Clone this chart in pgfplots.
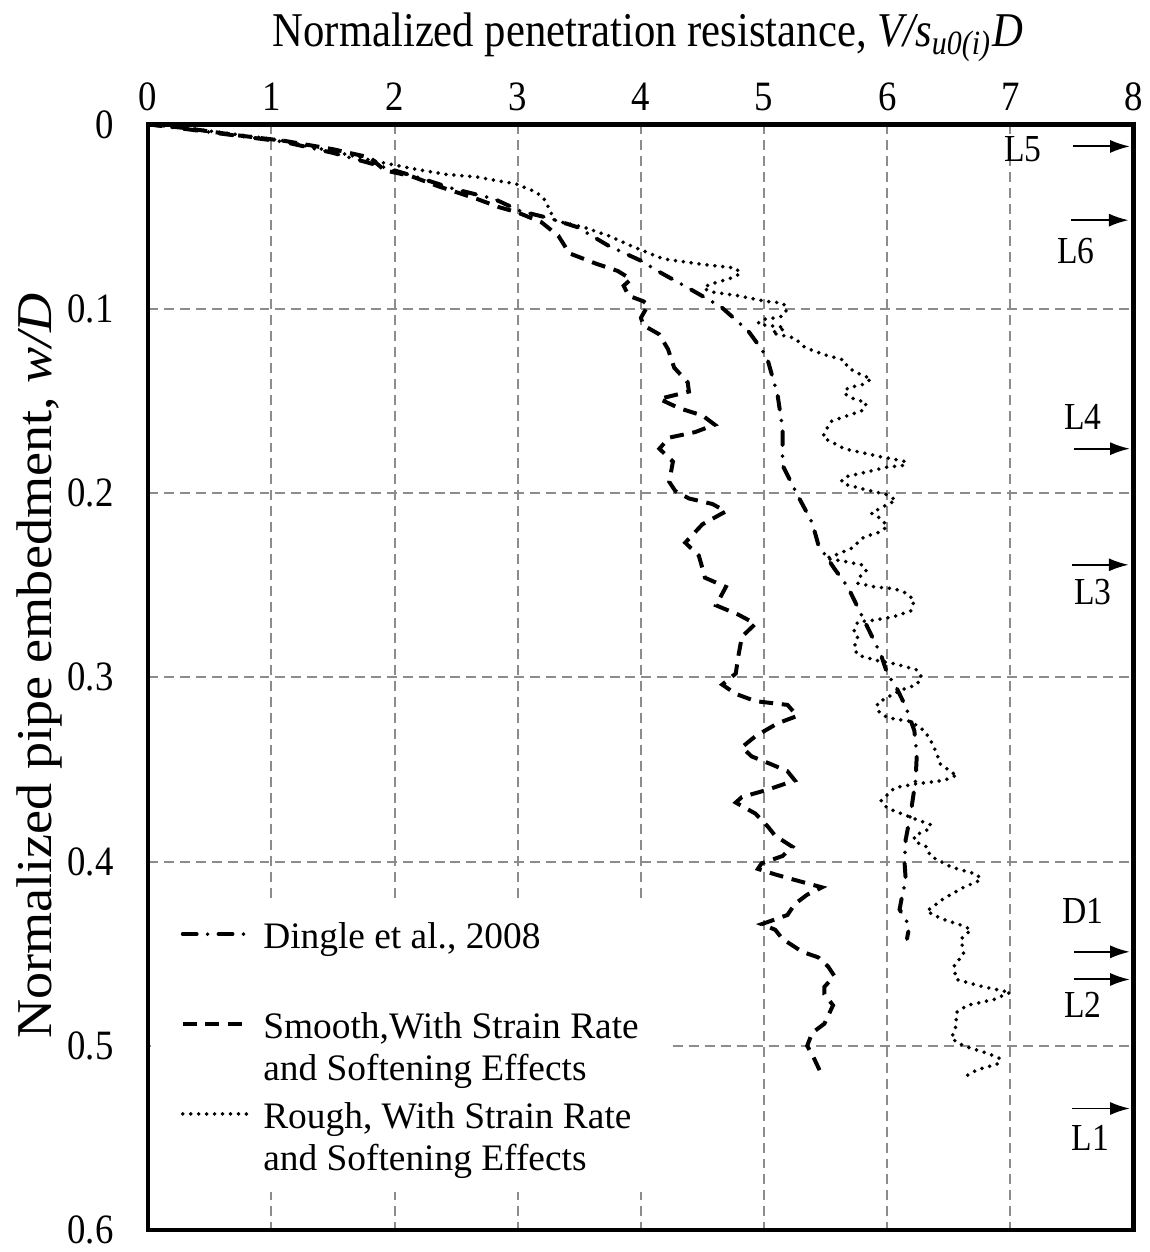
\documentclass[border=0pt]{standalone}
\usepackage{fontspec}
\setmainfont{Liberation Serif}
\newfontfamily\condfont{Liberation Serif}[FakeStretch=0.88]
\newfontfamily\ylabfont{Liberation Serif}[FakeStretch=1.08]
\usepackage{pgfplots}
\pgfplotsset{compat=1.18}
\usetikzlibrary{arrows.meta}
\begin{document}
\begin{tikzpicture}
\begin{axis}[name=ax, scale only axis, width=247.75pt, height=278pt,
  xmin=0, xmax=8, ymin=0, ymax=0.6, y dir=reverse,
  xtick={0,1,2,3,4,5,6,7,8}, ytick={0,0.1,0.2,0.3,0.4,0.5,0.6},
  yticklabels={0,0.1,0.2,0.3,0.4,0.5,0.6},
  xticklabel pos=upper,
  major tick length=0pt,
  grid=major,
  major grid style={draw=black!45, line width=0.5pt, dash pattern=on 2.5pt off 1.5pt},
  axis line style={line width=1.1pt},
  tick label style={font=\condfont\fontsize{10.5}{12}\selectfont},
  /pgf/number format/assume math mode=true,
  xticklabel style={anchor=south, inner sep=0pt, yshift=3.25pt},
  yticklabel style={anchor=east, inner sep=0pt, xshift=-8.5pt},
  xlabel={Normalized penetration resistance, \textit{V/s}\textsubscript{\textit{u0(i)}}\textit{D}},
  xlabel style={font=\condfont\fontsize{12.2}{14}\selectfont, at={(axis description cs:0.507,1.07)}, anchor=base},
  ylabel={Normalized pipe embedment, \textit{w/D}},
  ylabel style={font=\ylabfont\fontsize{12.6}{15}\selectfont, at={(axis description cs:-0.11,0.51)}, anchor=center},
  legend style={at={(axis description cs:0.002,0.296)}, anchor=north west, draw=none, fill=white,
    inner xsep=7.5pt, inner ysep=4pt, row sep=3.25pt, column sep=3.75pt,
    cells={anchor=west}, nodes={inner sep=0pt, align=left, font=\fontsize{9.4}{10.5}\selectfont}},
  legend image code/.code={\draw[#1, yshift=6pt] (0pt,0pt) -- (16pt,0pt);},
  clip=false,
]
\addplot[black, line width=1pt, line cap=round, dash pattern=on 3.5pt off 2.75pt on 0pt off 2.75pt] coordinates {
(0,0) (0.3,0.0025) (0.7,0.006) (1.1,0.0095) (1.5,0.0155) (1.85,0.022) (2.2,0.029) (2.48,0.035)
(2.81,0.0405) (3.02,0.047) (3.26,0.051) (3.48,0.0557) (3.74,0.066) (4.02,0.0746) (4.12,0.079)
(4.39,0.089) (4.65,0.099) (4.87,0.112) (4.98,0.122) (5.03,0.128) (5.11,0.147) (5.15,0.165)
(5.15,0.185) (5.27,0.201) (5.39,0.216) (5.44,0.228) (5.57,0.241) (5.68,0.251) (5.76,0.262)
(5.87,0.277) (5.95,0.288) (6.00,0.298) (6.07,0.305) (6.15,0.316) (6.22,0.329) (6.24,0.342)
(6.23,0.356) (6.19,0.374) (6.15,0.388) (6.14,0.400) (6.15,0.410) (6.12,0.419) (6.10,0.426)
(6.18,0.435) (6.16,0.442)
};
\addlegendentry{\strut Dingle et al., 2008\\\strut}
\addplot[black, line width=1pt, dash pattern=on 3.5pt off 2.2pt] coordinates {
(0,0) (0.3,0.002) (0.73,0.006) (1.11,0.009) (1.5,0.0135) (1.8,0.018) (1.92,0.025) (2.13,0.028)
(2.35,0.0335) (2.67,0.0405) (2.85,0.045) (2.99,0.0476) (3.19,0.053) (3.33,0.0605) (3.42,0.070)
(3.64,0.0757) (3.81,0.0795) (3.92,0.084) (3.86,0.0876) (3.90,0.093) (4.02,0.096) (4.06,0.098)
(4.00,0.105) (4.02,0.109) (4.15,0.114) (4.22,0.122) (4.27,0.132) (4.38,0.140) (4.39,0.145)
(4.15,0.149) (4.31,0.154) (4.50,0.158) (4.60,0.163) (4.44,0.167) (4.23,0.170) (4.15,0.176)
(4.26,0.183) (4.23,0.194) (4.28,0.199) (4.39,0.203) (4.58,0.206) (4.69,0.210) (4.50,0.217)
(4.36,0.227) (4.47,0.234) (4.50,0.241) (4.52,0.246) (4.69,0.251) (4.61,0.261) (4.79,0.266)
(4.93,0.271) (4.82,0.278) (4.79,0.289) (4.77,0.298) (4.66,0.304) (4.77,0.309) (4.93,0.313)
(5.19,0.315) (5.27,0.321) (5.11,0.325) (4.93,0.332) (4.82,0.338) (4.90,0.343) (5.05,0.347)
(5.19,0.351) (5.25,0.356) (5.03,0.361) (4.82,0.365) (4.77,0.368) (4.93,0.374) (5.03,0.381)
(5.09,0.386) (5.23,0.392) (5.15,0.397) (4.98,0.401) (4.95,0.404) (5.09,0.407) (5.25,0.410)
(5.47,0.414) (5.35,0.418) (5.25,0.423) (5.19,0.429) (4.98,0.434) (5.09,0.437) (5.15,0.442)
(5.31,0.449) (5.44,0.452) (5.52,0.457) (5.57,0.462) (5.49,0.468) (5.49,0.472) (5.56,0.478)
(5.49,0.488) (5.39,0.493) (5.35,0.500) (5.40,0.506) (5.47,0.516)
};
\addlegendentry{\strut Smooth,With Strain Rate\\\strut and Softening Effects}
\addplot[black, line width=1pt, line cap=round, dash pattern=on 0pt off 2pt] coordinates {
(0,0) (0.3,0.002) (0.72,0.0055) (1.1,0.009) (1.52,0.015) (1.88,0.0205) (2.13,0.0238) (2.40,0.027)
(2.67,0.0286) (2.99,0.0324) (3.15,0.0368) (3.23,0.0416) (3.26,0.047) (3.31,0.0524) (3.53,0.0557)
(3.74,0.0605) (3.94,0.0665) (4.18,0.073) (4.50,0.076) (4.77,0.078) (4.81,0.081) (4.71,0.084)
(4.55,0.087) (4.51,0.089) (4.58,0.091) (4.79,0.093) (5.01,0.096) (5.15,0.097) (5.19,0.100)
(5.15,0.104) (5.09,0.105) (4.98,0.106) (4.95,0.108) (5.01,0.109) (5.15,0.110) (5.17,0.111)
(5.06,0.113) (5.11,0.114) (5.25,0.116) (5.33,0.121) (5.49,0.125) (5.65,0.128) (5.68,0.132)
(5.79,0.136) (5.87,0.138) (5.81,0.141) (5.68,0.143) (5.65,0.146) (5.73,0.149) (5.83,0.151)
(5.81,0.155) (5.68,0.158) (5.55,0.161) (5.49,0.167) (5.48,0.170) (5.65,0.176) (5.92,0.180)
(6.15,0.183) (6.14,0.185) (6.00,0.186) (5.68,0.191) (5.63,0.193) (5.64,0.195) (5.81,0.198)
(6.00,0.201) (6.07,0.204) (5.98,0.207) (5.87,0.211) (5.95,0.214) (6.00,0.218) (5.95,0.221)
(5.81,0.224) (5.71,0.230) (5.57,0.234) (5.50,0.2355) (5.64,0.237) (5.79,0.239) (5.83,0.242)
(5.79,0.244) (5.76,0.249) (5.90,0.251) (6.06,0.252) (6.14,0.254) (6.22,0.258) (6.19,0.264)
(6.06,0.267) (5.90,0.269) (5.76,0.270) (5.73,0.275) (5.76,0.278) (5.73,0.284) (5.76,0.288)
(5.92,0.291) (6.08,0.293) (6.24,0.296) (6.28,0.300) (6.24,0.304) (6.11,0.307) (6.00,0.311)
(5.92,0.314) (5.92,0.318) (6.00,0.322) (6.19,0.324) (6.30,0.329) (6.35,0.334) (6.40,0.341)
(6.43,0.347) (6.53,0.352) (6.57,0.353) (6.46,0.356) (6.22,0.358) (6.06,0.360) (5.95,0.367)
(6.00,0.371) (6.19,0.376) (6.35,0.380) (6.35,0.382) (6.22,0.386) (6.22,0.389) (6.32,0.392)
(6.35,0.397) (6.52,0.403) (6.73,0.407) (6.76,0.410) (6.62,0.414) (6.46,0.420) (6.32,0.427)
(6.44,0.431) (6.62,0.435) (6.68,0.437) (6.60,0.442) (6.62,0.450) (6.54,0.457) (6.56,0.464)
(6.78,0.468) (7.00,0.471) (6.86,0.475) (6.65,0.478) (6.56,0.482) (6.56,0.489) (6.52,0.496)
(6.62,0.500) (6.81,0.504) (6.92,0.507) (6.89,0.510) (6.73,0.513) (6.65,0.516)
};
\addlegendentry{\strut Rough, With Strain Rate\\\strut and Softening Effects}
% level markers
\addplot[black, line width=0.5pt, -{Latex[length=5pt,width=3.3pt]}, forget plot] coordinates {(7.51,0.012) (7.97,0.012)};
\addplot[black, line width=0.5pt, -{Latex[length=5pt,width=3.3pt]}, forget plot] coordinates {(7.49,0.052) (7.96,0.052)};
\addplot[black, line width=0.5pt, -{Latex[length=5pt,width=3.3pt]}, forget plot] coordinates {(7.52,0.176) (7.97,0.176)};
\addplot[black, line width=0.5pt, -{Latex[length=5pt,width=3.3pt]}, forget plot] coordinates {(7.50,0.239) (7.96,0.239)};
\addplot[black, line width=0.5pt, -{Latex[length=5pt,width=3.3pt]}, forget plot] coordinates {(7.52,0.449) (7.97,0.449)};
\addplot[black, line width=0.5pt, -{Latex[length=5pt,width=3.3pt]}, forget plot] coordinates {(7.52,0.464) (7.97,0.464)};
\addplot[black, line width=0.5pt, -{Latex[length=5pt,width=3.3pt]}, forget plot] coordinates {(7.50,0.534) (7.97,0.534)};
\node[font=\condfont\fontsize{9.6}{11}\selectfont] at (axis cs:7.10,0.0135) {L5};
\node[font=\condfont\fontsize{9.6}{11}\selectfont] at (axis cs:7.53,0.069) {L6};
\node[font=\condfont\fontsize{9.6}{11}\selectfont] at (axis cs:7.59,0.159) {L4};
\node[font=\condfont\fontsize{9.6}{11}\selectfont] at (axis cs:7.67,0.254) {L3};
\node[font=\condfont\fontsize{9.6}{11}\selectfont] at (axis cs:7.59,0.427) {D1};
\node[font=\condfont\fontsize{9.6}{11}\selectfont] at (axis cs:7.59,0.478) {L2};
\node[font=\condfont\fontsize{9.6}{11}\selectfont] at (axis cs:7.65,0.550) {L1};
\end{axis}
\path (ax.north west) ++(-37.25pt,31.25pt) coordinate (bbtl);
\path (ax.south east) ++(4pt,-5.5pt) coordinate (bbbr);
\end{tikzpicture}
\end{document}
